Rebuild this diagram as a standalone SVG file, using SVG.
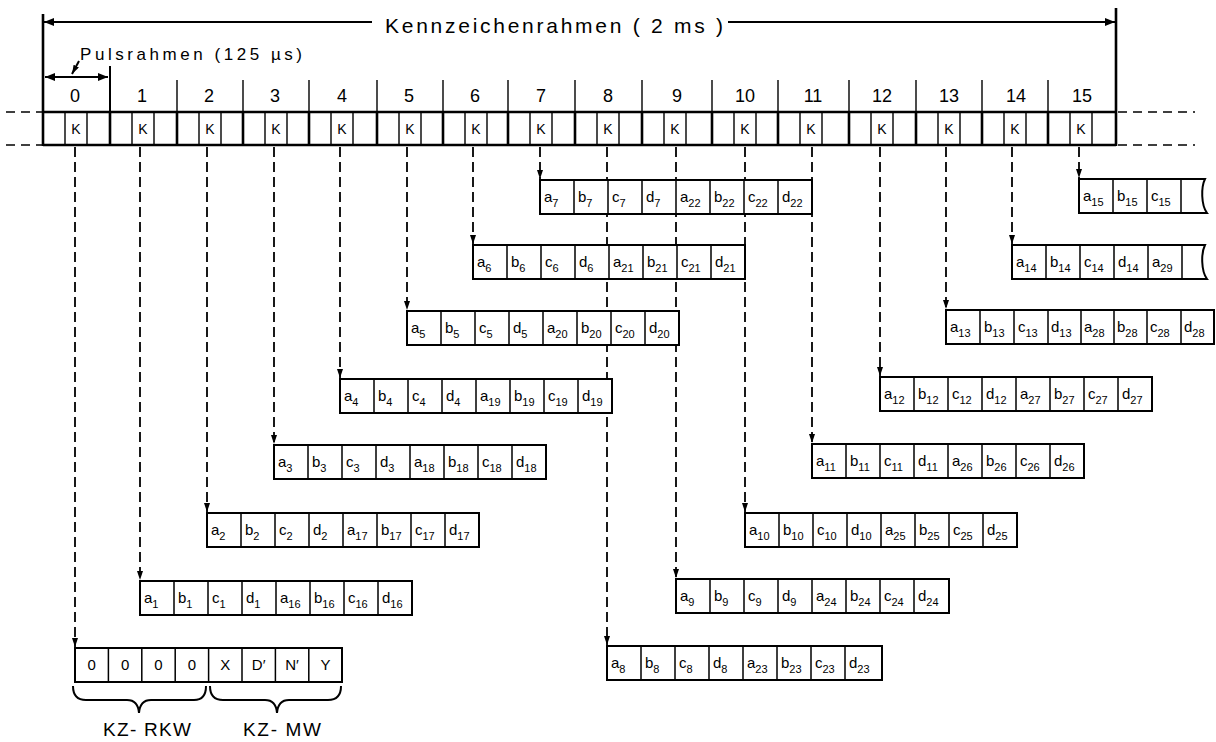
<svg xmlns="http://www.w3.org/2000/svg" width="1216" height="742" viewBox="0 0 1216 742">
<style>
.ln{stroke:#000;stroke-width:2;fill:none}
.thk{stroke:#000;stroke-width:2.6;fill:none}
.thn{stroke:#000;stroke-width:1.4;fill:none}
.dsh{stroke:#000;stroke-width:1.6;fill:none;stroke-dasharray:9 6}
.con{stroke:#000;stroke-width:1.8;fill:none;stroke-dasharray:10 5}
.box{fill:#fff;stroke:#000;stroke-width:2}
.div{stroke:#000;stroke-width:1.5;fill:none}
.t{font-family:"Liberation Sans",Arial,sans-serif;font-size:15px;fill:#000}
.s{font-size:11px}
.num{font-family:"Liberation Sans",Arial,sans-serif;font-size:18px;fill:#000;text-anchor:middle}
.k{font-family:"Liberation Sans",Arial,sans-serif;font-size:14px;fill:#000;text-anchor:middle}
.lbl{font-family:"Liberation Sans",Arial,sans-serif;fill:#000}
.big{font-size:21px}
.mid{font-size:17px}
.kz{font-size:19px}
.c{text-anchor:middle}
</style>
<defs>
<marker id="ah" viewBox="0 0 10 8" refX="10" refY="4" markerWidth="10" markerHeight="8" orient="auto-start-reverse" markerUnits="userSpaceOnUse"><path d="M0 0L10 4L0 8z"/></marker>
<marker id="ahs" viewBox="0 0 9 6" refX="9" refY="3" markerWidth="9" markerHeight="6" orient="auto" markerUnits="userSpaceOnUse"><path d="M0 0L9 3L0 6z"/></marker>
<path id="div8" class="div" d="M34 0v34M68 0v34M102 0v34M136 0v34M170 0v34M204 0v34M238 0v34"/>
</defs>
<rect width="1216" height="742" fill="#fff"/>

<g id="header">
<path class="thk" d="M43 14V146M1116 8V146"/>
<line class="ln" x1="372" y1="22" x2="44" y2="22" marker-end="url(#ah)"/>
<line class="ln" x1="728" y1="22" x2="1115" y2="22" marker-end="url(#ah)"/>
<text class="lbl big" x="385" y="33" textLength="338" lengthAdjust="spacing">Kennzeichenrahmen  ( 2 ms )</text>
<text class="lbl mid" x="80" y="60" textLength="222" lengthAdjust="spacing">Pulsrahmen  (125 µs)</text>
<line class="ln" x1="79" y1="61" x2="72" y2="74" stroke-width="1.5" marker-end="url(#ahs)"/>
<line class="ln" x1="45" y1="77" x2="108" y2="77" marker-start="url(#ah)" marker-end="url(#ah)"/>
<path class="ln" d="M110 66V112"/>
<path class="thn" d="M177 80V112M243 80V112M309 80V112M377 80V112M443 80V112M508 80V112M575 80V112M642 80V112M712 80V112M778 80V112M849 80V112M916 80V112M982 80V112M1048 80V112"/>
<path class="thk" d="M43 112H1116M43 145H1116"/>
<path class="thk" d="M110 112v33M177 112v33M243 112v33M309 112v33M377 112v33M443 112v33M508 112v33M575 112v33M642 112v33M712 112v33M778 112v33M849 112v33M916 112v33M982 112v33M1048 112v33"/>
<path class="thn" d="M65 112v33M87 112v33M132 112v33M154 112v33M199 112v33M221 112v33M265 112v33M287 112v33M331 112v33M353 112v33M399 112v33M421 112v33M465 112v33M487 112v33M530 112v33M552 112v33M597 112v33M619 112v33M664 112v33M686 112v33M734 112v33M756 112v33M800 112v33M822 112v33M871 112v33M893 112v33M938 112v33M960 112v33M1004 112v33M1026 112v33M1070 112v33M1092 112v33"/>
<path class="dsh" d="M6 112H43M6 145H43M1118 112H1195M1118 145H1195"/>
<text class="num" x="75" y="102">0</text>
<text class="num" x="142" y="102">1</text>
<text class="num" x="209" y="102">2</text>
<text class="num" x="275" y="102">3</text>
<text class="num" x="342" y="102">4</text>
<text class="num" x="409" y="102">5</text>
<text class="num" x="475" y="102">6</text>
<text class="num" x="541" y="102">7</text>
<text class="num" x="608" y="102">8</text>
<text class="num" x="677" y="102">9</text>
<text class="num" x="745" y="102">10</text>
<text class="num" x="813" y="102">11</text>
<text class="num" x="882" y="102">12</text>
<text class="num" x="949" y="102">13</text>
<text class="num" x="1016" y="102">14</text>
<text class="num" x="1082" y="102">15</text>
<text class="k" x="76" y="134">K</text>
<text class="k" x="143" y="134">K</text>
<text class="k" x="210" y="134">K</text>
<text class="k" x="276" y="134">K</text>
<text class="k" x="342" y="134">K</text>
<text class="k" x="410" y="134">K</text>
<text class="k" x="476" y="134">K</text>
<text class="k" x="541" y="134">K</text>
<text class="k" x="608" y="134">K</text>
<text class="k" x="675" y="134">K</text>
<text class="k" x="745" y="134">K</text>
<text class="k" x="811" y="134">K</text>
<text class="k" x="882" y="134">K</text>
<text class="k" x="949" y="134">K</text>
<text class="k" x="1015" y="134">K</text>
<text class="k" x="1081" y="134">K</text>
</g>

<g id="connectors">
<line class="con" x1="75" y1="147" x2="75" y2="647" marker-end="url(#ahs)"/>
<line class="con" x1="140" y1="147" x2="140" y2="580" marker-end="url(#ahs)"/>
<line class="con" x1="207" y1="147" x2="207" y2="512" marker-end="url(#ahs)"/>
<line class="con" x1="274" y1="147" x2="274" y2="444" marker-end="url(#ahs)"/>
<line class="con" x1="340" y1="147" x2="340" y2="378" marker-end="url(#ahs)"/>
<line class="con" x1="407" y1="147" x2="407" y2="310" marker-end="url(#ahs)"/>
<line class="con" x1="473" y1="147" x2="473" y2="244" marker-end="url(#ahs)"/>
<line class="con" x1="540" y1="147" x2="540" y2="179" marker-end="url(#ahs)"/>
<line class="con" x1="607" y1="147" x2="607" y2="645" marker-end="url(#ahs)"/>
<line class="con" x1="676" y1="147" x2="676" y2="578" marker-end="url(#ahs)"/>
<line class="con" x1="745" y1="147" x2="745" y2="512" marker-end="url(#ahs)"/>
<line class="con" x1="812" y1="147" x2="812" y2="443" marker-end="url(#ahs)"/>
<line class="con" x1="880" y1="147" x2="880" y2="376" marker-end="url(#ahs)"/>
<line class="con" x1="946" y1="147" x2="946" y2="309" marker-end="url(#ahs)"/>
<line class="con" x1="1012" y1="147" x2="1012" y2="244" marker-end="url(#ahs)"/>
<line class="con" x1="1079" y1="147" x2="1079" y2="178" marker-end="url(#ahs)"/>
</g>

<g id="row0" transform="translate(75,648)">
<rect class="box" width="267" height="34"/>
<path class="div" d="M33.4 0v34M66.8 0v34M100.2 0v34M133.6 0v34M167 0v34M200.4 0v34M233.8 0v34"/>
<text class="t c" x="16.7" y="22">0</text>
<text class="t c" x="50.1" y="22">0</text>
<text class="t c" x="83.5" y="22">0</text>
<text class="t c" x="116.9" y="22">0</text>
<text class="t c" x="150.3" y="22">X</text>
<text class="t c" x="183.7" y="22">D′</text>
<text class="t c" x="217.1" y="22">N′</text>
<text class="t c" x="250.5" y="22">Y</text>
</g>
<g id="braces">
<path class="ln" stroke-width="1.6" d="M73 686Q73 700 86 700H127Q138 700 139 713Q140 700 151 700H194Q206 700 206 686"/>
<path class="ln" stroke-width="1.6" d="M210 686Q210 700 223 700H265Q276 700 277 713Q278 700 289 700H328Q341 700 341 686"/>
<text class="lbl kz" x="103" y="736" textLength="88" lengthAdjust="spacing">KZ- RKW</text>
<text class="lbl kz" x="243" y="736" textLength="78" lengthAdjust="spacing">KZ- MW</text>
</g>

<g id="row1" transform="translate(140,581)">
<rect class="box" width="272" height="34"/><use href="#div8"/>
<text class="t" x="4" y="22">a<tspan class="s" dy="5">1</tspan></text>
<text class="t" x="38" y="22">b<tspan class="s" dy="5">1</tspan></text>
<text class="t" x="72" y="22">c<tspan class="s" dy="5">1</tspan></text>
<text class="t" x="106" y="22">d<tspan class="s" dy="5">1</tspan></text>
<text class="t" x="140" y="22">a<tspan class="s" dy="5">16</tspan></text>
<text class="t" x="174" y="22">b<tspan class="s" dy="5">16</tspan></text>
<text class="t" x="208" y="22">c<tspan class="s" dy="5">16</tspan></text>
<text class="t" x="242" y="22">d<tspan class="s" dy="5">16</tspan></text>
</g>
<g id="row2" transform="translate(207,513)">
<rect class="box" width="272" height="34"/><use href="#div8"/>
<text class="t" x="4" y="22">a<tspan class="s" dy="5">2</tspan></text>
<text class="t" x="38" y="22">b<tspan class="s" dy="5">2</tspan></text>
<text class="t" x="72" y="22">c<tspan class="s" dy="5">2</tspan></text>
<text class="t" x="106" y="22">d<tspan class="s" dy="5">2</tspan></text>
<text class="t" x="140" y="22">a<tspan class="s" dy="5">17</tspan></text>
<text class="t" x="174" y="22">b<tspan class="s" dy="5">17</tspan></text>
<text class="t" x="208" y="22">c<tspan class="s" dy="5">17</tspan></text>
<text class="t" x="242" y="22">d<tspan class="s" dy="5">17</tspan></text>
</g>
<g id="row3" transform="translate(274,445)">
<rect class="box" width="272" height="34"/><use href="#div8"/>
<text class="t" x="4" y="22">a<tspan class="s" dy="5">3</tspan></text>
<text class="t" x="38" y="22">b<tspan class="s" dy="5">3</tspan></text>
<text class="t" x="72" y="22">c<tspan class="s" dy="5">3</tspan></text>
<text class="t" x="106" y="22">d<tspan class="s" dy="5">3</tspan></text>
<text class="t" x="140" y="22">a<tspan class="s" dy="5">18</tspan></text>
<text class="t" x="174" y="22">b<tspan class="s" dy="5">18</tspan></text>
<text class="t" x="208" y="22">c<tspan class="s" dy="5">18</tspan></text>
<text class="t" x="242" y="22">d<tspan class="s" dy="5">18</tspan></text>
</g>
<g id="row4" transform="translate(340,379)">
<rect class="box" width="272" height="34"/><use href="#div8"/>
<text class="t" x="4" y="22">a<tspan class="s" dy="5">4</tspan></text>
<text class="t" x="38" y="22">b<tspan class="s" dy="5">4</tspan></text>
<text class="t" x="72" y="22">c<tspan class="s" dy="5">4</tspan></text>
<text class="t" x="106" y="22">d<tspan class="s" dy="5">4</tspan></text>
<text class="t" x="140" y="22">a<tspan class="s" dy="5">19</tspan></text>
<text class="t" x="174" y="22">b<tspan class="s" dy="5">19</tspan></text>
<text class="t" x="208" y="22">c<tspan class="s" dy="5">19</tspan></text>
<text class="t" x="242" y="22">d<tspan class="s" dy="5">19</tspan></text>
</g>
<g id="row5" transform="translate(407,311)">
<rect class="box" width="272" height="34"/><use href="#div8"/>
<text class="t" x="4" y="22">a<tspan class="s" dy="5">5</tspan></text>
<text class="t" x="38" y="22">b<tspan class="s" dy="5">5</tspan></text>
<text class="t" x="72" y="22">c<tspan class="s" dy="5">5</tspan></text>
<text class="t" x="106" y="22">d<tspan class="s" dy="5">5</tspan></text>
<text class="t" x="140" y="22">a<tspan class="s" dy="5">20</tspan></text>
<text class="t" x="174" y="22">b<tspan class="s" dy="5">20</tspan></text>
<text class="t" x="208" y="22">c<tspan class="s" dy="5">20</tspan></text>
<text class="t" x="242" y="22">d<tspan class="s" dy="5">20</tspan></text>
</g>
<g id="row6" transform="translate(473,245)">
<rect class="box" width="272" height="34"/><use href="#div8"/>
<text class="t" x="4" y="22">a<tspan class="s" dy="5">6</tspan></text>
<text class="t" x="38" y="22">b<tspan class="s" dy="5">6</tspan></text>
<text class="t" x="72" y="22">c<tspan class="s" dy="5">6</tspan></text>
<text class="t" x="106" y="22">d<tspan class="s" dy="5">6</tspan></text>
<text class="t" x="140" y="22">a<tspan class="s" dy="5">21</tspan></text>
<text class="t" x="174" y="22">b<tspan class="s" dy="5">21</tspan></text>
<text class="t" x="208" y="22">c<tspan class="s" dy="5">21</tspan></text>
<text class="t" x="242" y="22">d<tspan class="s" dy="5">21</tspan></text>
</g>
<g id="row7" transform="translate(540,180)">
<rect class="box" width="272" height="34"/><use href="#div8"/>
<text class="t" x="4" y="22">a<tspan class="s" dy="5">7</tspan></text>
<text class="t" x="38" y="22">b<tspan class="s" dy="5">7</tspan></text>
<text class="t" x="72" y="22">c<tspan class="s" dy="5">7</tspan></text>
<text class="t" x="106" y="22">d<tspan class="s" dy="5">7</tspan></text>
<text class="t" x="140" y="22">a<tspan class="s" dy="5">22</tspan></text>
<text class="t" x="174" y="22">b<tspan class="s" dy="5">22</tspan></text>
<text class="t" x="208" y="22">c<tspan class="s" dy="5">22</tspan></text>
<text class="t" x="242" y="22">d<tspan class="s" dy="5">22</tspan></text>
</g>
<g id="row8" transform="translate(607,646)">
<rect class="box" width="275" height="34"/><use href="#div8"/>
<text class="t" x="4" y="22">a<tspan class="s" dy="5">8</tspan></text>
<text class="t" x="38" y="22">b<tspan class="s" dy="5">8</tspan></text>
<text class="t" x="72" y="22">c<tspan class="s" dy="5">8</tspan></text>
<text class="t" x="106" y="22">d<tspan class="s" dy="5">8</tspan></text>
<text class="t" x="140" y="22">a<tspan class="s" dy="5">23</tspan></text>
<text class="t" x="174" y="22">b<tspan class="s" dy="5">23</tspan></text>
<text class="t" x="208" y="22">c<tspan class="s" dy="5">23</tspan></text>
<text class="t" x="242" y="22">d<tspan class="s" dy="5">23</tspan></text>
</g>
<g id="row9" transform="translate(676,579)">
<rect class="box" width="273" height="34"/><use href="#div8"/>
<text class="t" x="4" y="22">a<tspan class="s" dy="5">9</tspan></text>
<text class="t" x="38" y="22">b<tspan class="s" dy="5">9</tspan></text>
<text class="t" x="72" y="22">c<tspan class="s" dy="5">9</tspan></text>
<text class="t" x="106" y="22">d<tspan class="s" dy="5">9</tspan></text>
<text class="t" x="140" y="22">a<tspan class="s" dy="5">24</tspan></text>
<text class="t" x="174" y="22">b<tspan class="s" dy="5">24</tspan></text>
<text class="t" x="208" y="22">c<tspan class="s" dy="5">24</tspan></text>
<text class="t" x="242" y="22">d<tspan class="s" dy="5">24</tspan></text>
</g>
<g id="row10" transform="translate(745,513)">
<rect class="box" width="272" height="34"/><use href="#div8"/>
<text class="t" x="4" y="22">a<tspan class="s" dy="5">10</tspan></text>
<text class="t" x="38" y="22">b<tspan class="s" dy="5">10</tspan></text>
<text class="t" x="72" y="22">c<tspan class="s" dy="5">10</tspan></text>
<text class="t" x="106" y="22">d<tspan class="s" dy="5">10</tspan></text>
<text class="t" x="140" y="22">a<tspan class="s" dy="5">25</tspan></text>
<text class="t" x="174" y="22">b<tspan class="s" dy="5">25</tspan></text>
<text class="t" x="208" y="22">c<tspan class="s" dy="5">25</tspan></text>
<text class="t" x="242" y="22">d<tspan class="s" dy="5">25</tspan></text>
</g>
<g id="row11" transform="translate(812,444)">
<rect class="box" width="272" height="34"/><use href="#div8"/>
<text class="t" x="4" y="22">a<tspan class="s" dy="5">11</tspan></text>
<text class="t" x="38" y="22">b<tspan class="s" dy="5">11</tspan></text>
<text class="t" x="72" y="22">c<tspan class="s" dy="5">11</tspan></text>
<text class="t" x="106" y="22">d<tspan class="s" dy="5">11</tspan></text>
<text class="t" x="140" y="22">a<tspan class="s" dy="5">26</tspan></text>
<text class="t" x="174" y="22">b<tspan class="s" dy="5">26</tspan></text>
<text class="t" x="208" y="22">c<tspan class="s" dy="5">26</tspan></text>
<text class="t" x="242" y="22">d<tspan class="s" dy="5">26</tspan></text>
</g>
<g id="row12" transform="translate(880,377)">
<rect class="box" width="272" height="34"/><use href="#div8"/>
<text class="t" x="4" y="22">a<tspan class="s" dy="5">12</tspan></text>
<text class="t" x="38" y="22">b<tspan class="s" dy="5">12</tspan></text>
<text class="t" x="72" y="22">c<tspan class="s" dy="5">12</tspan></text>
<text class="t" x="106" y="22">d<tspan class="s" dy="5">12</tspan></text>
<text class="t" x="140" y="22">a<tspan class="s" dy="5">27</tspan></text>
<text class="t" x="174" y="22">b<tspan class="s" dy="5">27</tspan></text>
<text class="t" x="208" y="22">c<tspan class="s" dy="5">27</tspan></text>
<text class="t" x="242" y="22">d<tspan class="s" dy="5">27</tspan></text>
</g>
<g id="row13" transform="translate(946,310)">
<rect class="box" width="268" height="34"/>
<path class="div" d="M34 0v34M68 0v34M102 0v34M135 0v34M168 0v34M201 0v34M235 0v34"/>
<text class="t" x="4" y="22">a<tspan class="s" dy="5">13</tspan></text>
<text class="t" x="38" y="22">b<tspan class="s" dy="5">13</tspan></text>
<text class="t" x="72" y="22">c<tspan class="s" dy="5">13</tspan></text>
<text class="t" x="105" y="22">d<tspan class="s" dy="5">13</tspan></text>
<text class="t" x="138" y="22">a<tspan class="s" dy="5">28</tspan></text>
<text class="t" x="171" y="22">b<tspan class="s" dy="5">28</tspan></text>
<text class="t" x="204" y="22">c<tspan class="s" dy="5">28</tspan></text>
<text class="t" x="238" y="22">d<tspan class="s" dy="5">28</tspan></text>
</g>
<g id="row14" transform="translate(1012,245)">
<path class="box" d="M0 0H193C189 8 189 26 195 34H0Z"/>
<path class="div" d="M34 0v34M68 0v34M102 0v34M136 0v34M170 0v34"/>
<text class="t" x="4" y="22">a<tspan class="s" dy="5">14</tspan></text>
<text class="t" x="38" y="22">b<tspan class="s" dy="5">14</tspan></text>
<text class="t" x="72" y="22">c<tspan class="s" dy="5">14</tspan></text>
<text class="t" x="106" y="22">d<tspan class="s" dy="5">14</tspan></text>
<text class="t" x="140" y="22">a<tspan class="s" dy="5">29</tspan></text>
</g>
<g id="row15" transform="translate(1079,179)">
<path class="box" d="M0 0H126C122 8 122 26 128 34H0Z"/>
<path class="div" d="M34 0v34M68 0v34M102 0v34"/>
<text class="t" x="4" y="22">a<tspan class="s" dy="5">15</tspan></text>
<text class="t" x="38" y="22">b<tspan class="s" dy="5">15</tspan></text>
<text class="t" x="72" y="22">c<tspan class="s" dy="5">15</tspan></text>
</g>
</svg>
